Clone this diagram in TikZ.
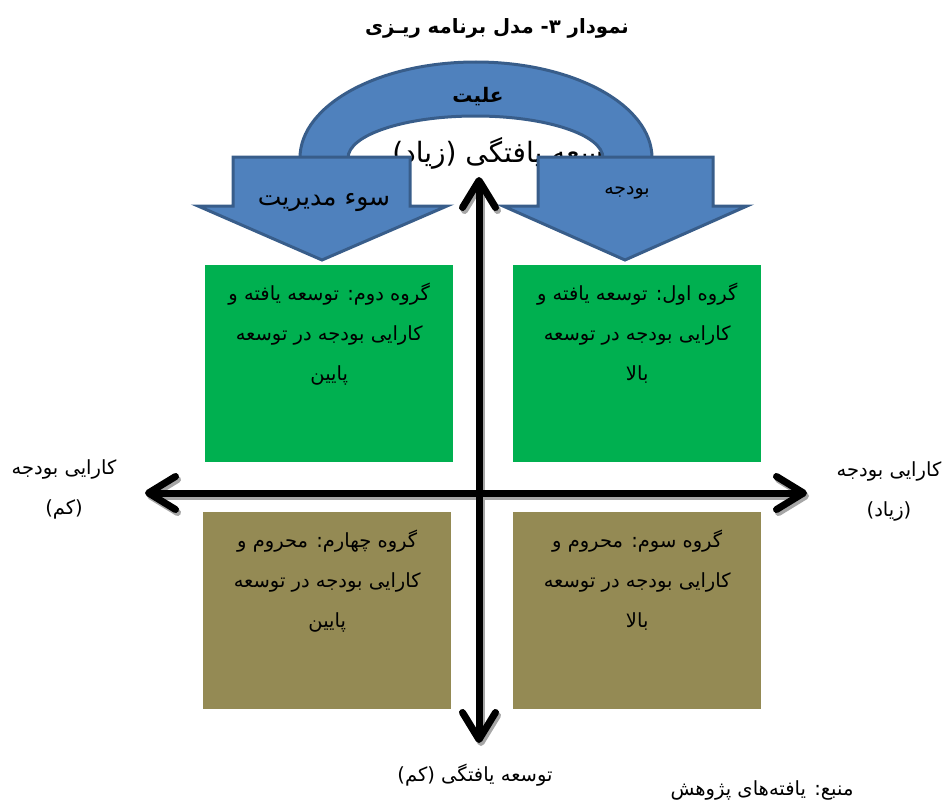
\documentclass[tikz,border=0pt]{standalone}
\usepackage{fontspec}
\usetikzlibrary{arrows.meta,positioning}
\TeXXeTstate=1
\newfontfamily\arabicfont[Script=Arabic]{DejaVu Sans}
\newcommand{\fa}[1]{{\arabicfont\beginR #1\endR}}

\definecolor{arcblue}{HTML}{4F81BD}
\definecolor{arcline}{HTML}{385D8A}
\definecolor{highgreen}{HTML}{00B050}
\definecolor{lowolive}{HTML}{948A54}
\definecolor{shadowgray}{HTML}{A6A6A6}

\tikzstyle{blockarrow}=[fill=arcblue,draw=arcline,line width=3pt,line join=miter]
\tikzstyle{group}=[anchor=north west,minimum width=248pt,minimum height=197pt,inner sep=0pt]
\tikzstyle{grouptext}=[align=center,font=\fontsize{19.5}{40}\selectfont,inner sep=0pt]
\tikzstyle{axislabel}=[align=center,font=\fontsize{19.5}{40}\selectfont,inner sep=0pt]
\tikzstyle{axis}=[line width=7pt,{Straight Barb[round,length=27pt,width=33pt]}-{Straight Barb[round,length=27pt,width=33pt]}]

\begin{document}
\begin{tikzpicture}[x=1pt,y=-1pt]
    \useasboundingbox (0,0) rectangle (945,800);

    % title
    \node[font=\fontsize{19.7}{22}\selectfont\bfseries] (title) at (497,28) {\fa{نمودار ۳- مدل برنامه ریـزی}};

    % label half hidden under the arc
    \begin{scope}
        \clip (360,110) rectangle (660,168);
        \node[font=\fontsize{28}{30}\selectfont,anchor=base] (high) at (509,162) {\fa{توسعه یافتگی (زیاد)}};
    \end{scope}

    % arc and the two arrows
    \draw[blockarrow] (300,158) arc[start angle=180,end angle=0,x radius=176pt,y radius=96pt]
        -- (603,158) arc[start angle=0,end angle=180,x radius=127.5pt,y radius=42pt] -- cycle;
    \draw[blockarrow] (233,157) -- (410,157) -- (410,206) -- (447,206) -- (322,260)
        -- (198,206) -- (233,206) -- cycle;
    \draw[blockarrow] (538,157) -- (713,157) -- (713,206) -- (747,206) -- (625,260)
        -- (503,206) -- (538,206) -- cycle;
    \node[font=\fontsize{20}{22}\selectfont\bfseries] (cause) at (478,97) {\fa{علیت}};
    \node[font=\fontsize{25}{28}\selectfont] (misuse) at (324,203) {\fa{سوء مدیریت}};
    \node[font=\fontsize{19}{22}\selectfont] (budget) at (627,193) {\fa{بودجه}};

    % groups
    \node[group,fill=highgreen] (g1) at (513,265) {};
    \node[group,fill=highgreen] (g2) at (205,265) {};
    \node[group,fill=lowolive] (g3) at (513,512) {};
    \node[group,fill=lowolive] (g4) at (203,512) {};
    \node[grouptext,below=18pt of g1.north] (t1) {\fa{گروه اول: توسعه یافته و}\\\fa{کارایی بودجه در توسعه}\\\fa{بالا}};
    \node[grouptext,below=18pt of g2.north] (t2) {\fa{گروه دوم: توسعه یافته و}\\\fa{کارایی بودجه در توسعه}\\\fa{پایین}};
    \node[grouptext,below=18pt of g3.north] (t3) {\fa{گروه سوم: محروم و}\\\fa{کارایی بودجه در توسعه}\\\fa{بالا}};
    \node[grouptext,below=18pt of g4.north] (t4) {\fa{گروه چهارم: محروم و}\\\fa{کارایی بودجه در توسعه}\\\fa{پایین}};

    % axes
    \coordinate (top) at (479,177);
    \coordinate (bottom) at (479,743);
    \coordinate (left) at (145,493);
    \coordinate (right) at (807,493);
    \draw[axis,shadowgray,transform canvas={shift={(2pt,-3pt)}}] (left) -- (right);
    \draw[axis,shadowgray,transform canvas={shift={(2pt,-3pt)}}] (bottom) -- (top);
    \draw[axis] (left) -- (right);
    \draw[axis] (bottom) -- (top);

    % axis labels
    \node[axislabel] (lowbudget) at (64,489) {\fa{کارایی بودجه}\\\fa{(کم)}};
    \node[axislabel] (highbudget) at (889,491) {\fa{کارایی بودجه}\\\fa{(زیاد)}};
    \node[axislabel] (low) at (475,775) {\fa{توسعه یافتگی (کم)}};
    \node[axislabel] (source) at (762,790) {\fa{منبع: یافته‌های پژوهش}};
\end{tikzpicture}
\end{document}
